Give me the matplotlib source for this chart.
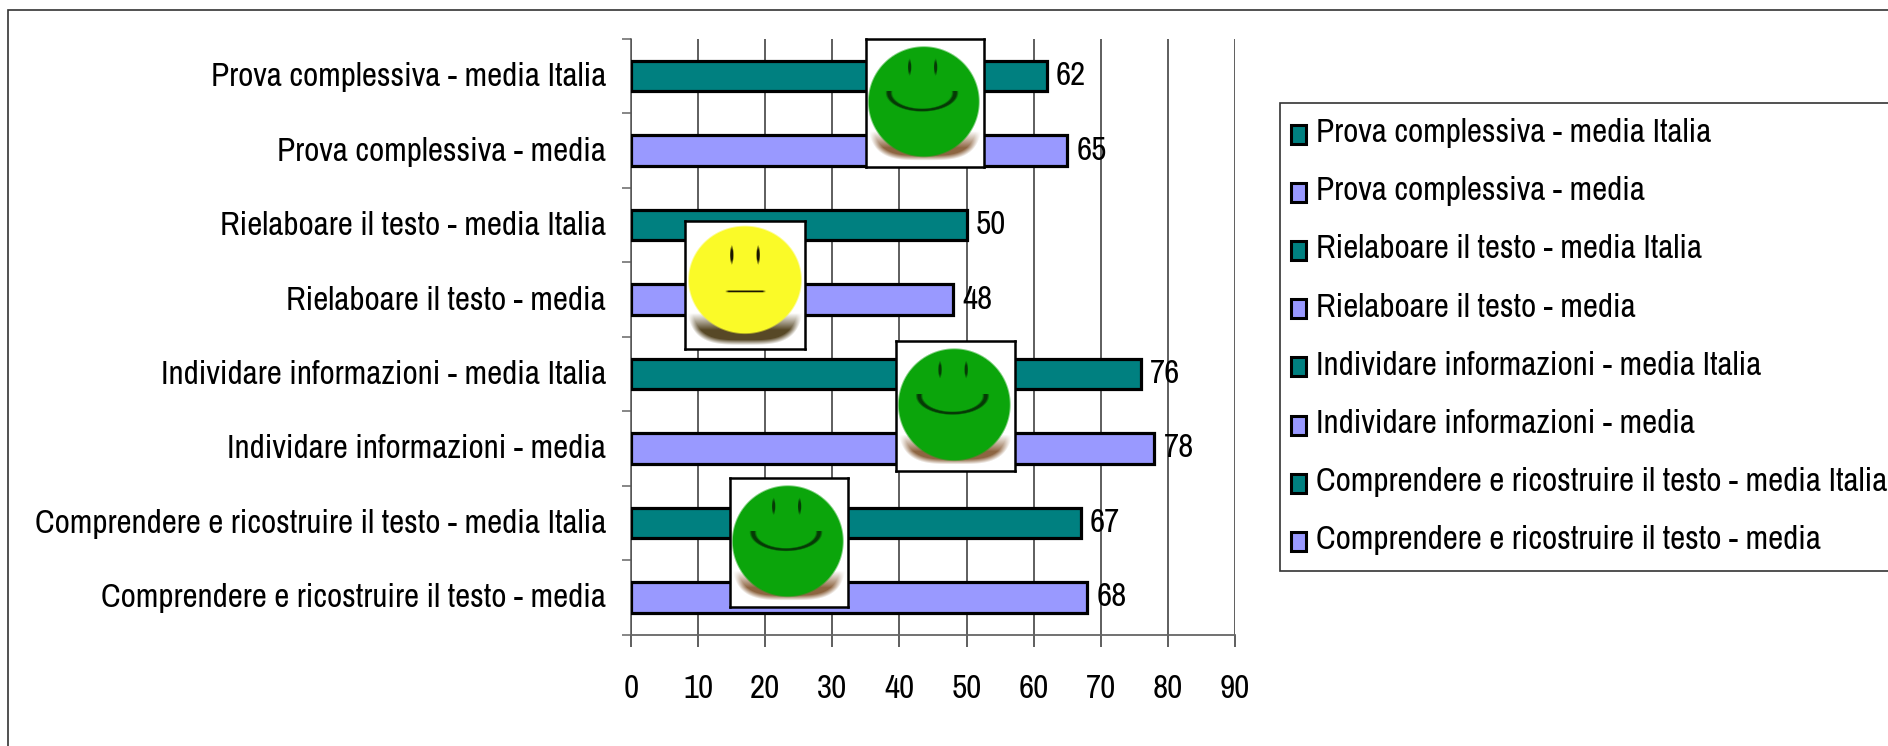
import numpy as np
import matplotlib
matplotlib.use('Agg')
import matplotlib.pyplot as plt
from matplotlib.colors import to_rgb
from matplotlib.patches import Rectangle

W, H = 1888, 746
TEAL = '#008080'
LILAC = '#9999FF'
FS = 23.8

labels = [
    'Comprendere e ricostruire il testo - media',
    'Comprendere e ricostruire il testo - media Italia',
    'Individare informazioni - media',
    'Individare informazioni - media Italia',
    'Rielaboare il testo - media',
    'Rielaboare il testo - media Italia',
    'Prova complessiva - media',
    'Prova complessiva - media Italia',
]
values = [68, 67, 78, 76, 48, 50, 65, 62]
bar_colors = [LILAC, TEAL, LILAC, TEAL, LILAC, TEAL, LILAC, TEAL]
xticks = [0, 10, 20, 30, 40, 50, 60, 70, 80, 90]
# kind, left, top, right, bottom in pixels
smileys = [
    ('smile', 866, 39, 984, 167),
    ('flat', 685, 221, 805, 349),
    ('smile', 896, 341, 1015, 471),
    ('smile', 730, 478, 848, 607),
]


def blend(img, mask, color):
    c = np.array(to_rgb(color))
    return img * (1 - mask[..., None]) + c * mask[..., None]


def make_smiley(kind, w, h):
    yy, xx = np.mgrid[0:h, 0:w]
    u = (xx + .5) / w
    v = (yy + .5) / h
    img = np.ones((h, w, 3))
    if kind == 'smile':
        face, dark, shade = '#0BA50B', '#063A06', '#7A4A20'
        cx, cy, rx, ry = .49, .49, .47, .43
        eyes, ey, eh = (.37, .59), .22, .07
        sry = .45
    else:
        face, dark, shade = '#FAFA28', '#1A1500', '#3A2800'
        cx, cy, rx, ry = .50, .46, .47, .42
        eyes, ey, eh = (.39, .61), .265, .08
        sry = .47
    d = (np.abs((u - .5) / .49) ** 3.5 + np.abs((v - .5) / sry) ** 3.5) ** (1 / 3.5)
    sh = np.clip((1 - d) / .09, 0, 1) * np.clip((v - .72) / .13, 0, 1)
    img = blend(img, sh * .85, shade)
    r = np.sqrt(((u - cx) / rx) ** 2 + ((v - cy) / ry) ** 2)
    img = blend(img, np.clip((1 - r) / .035 + .5, 0, 1), face)
    for ex in eyes:
        e = np.sqrt(((u - ex) / .018) ** 2 + ((v - ey) / eh) ** 2)
        img = blend(img, np.clip((1 - e) * 2, 0, 1), dark)
    if kind == 'smile':
        m = np.sqrt(((u - .475) / .28) ** 2 + ((v - .42) / .135) ** 2)
        band = np.clip(1.5 - np.abs(m - 1) / .075, 0, 1) * (v > .41)
    else:
        band = np.clip(1.5 - np.abs(v - .55) / .007, 0, 1) * np.clip((.17 - np.abs(u - .505)) / .03, 0, 1)
    return blend(img, band, dark)


plt.rcParams['font.family'] = ['Archivo Narrow', 'Liberation Sans', 'DejaVu Sans']
fig = plt.figure(figsize=(W / 100, H / 100), dpi=100, facecolor='white')


def box(l, t, r, b):
    return [l / W, 1 - b / H, (r - l) / W, (b - t) / H]


bg = fig.add_axes([0, 0, 1, 1], zorder=0)
bg.set_xlim(0, W); bg.set_ylim(H, 0); bg.axis('off')
bg.add_patch(Rectangle((8, 9.5), W + 20, H + 20, fc='white', ec='#333333', lw=1.2))

ax = fig.add_axes(box(631, 39, 1235, 634.5), zorder=1)
ax.patch.set_alpha(0)
y = np.arange(len(labels))
ax.barh(y, values, height=.41, color=bar_colors, edgecolor='black', linewidth=2.3, zorder=3)
ax.set_xlim(0, 90)
ax.set_ylim(-.5, len(labels) - .5)
ax.set_xticks(xticks)
ax.set_xticklabels([str(t) for t in xticks], fontsize=FS)
ax.set_yticks(np.arange(-.5, len(labels)))
ax.set_yticklabels([])
ax.grid(axis='x', color='#333333', lw=1.1, zorder=0)
ax.tick_params(axis='y', length=6.5, width=1.1, color='#666666')
ax.tick_params(axis='x', length=8.5, width=1.1, color='#333333', pad=20)
for s in ('top', 'right'):
    ax.spines[s].set_visible(False)
ax.spines['left'].set_color('#555555')
ax.spines['bottom'].set_color('#666666')
ax.spines['left'].set_linewidth(1.1)
ax.spines['bottom'].set_linewidth(1.3)
ax.set_axisbelow(True)
for yi, lab, v in zip(y, labels, values):
    ax.annotate(lab, (0, yi), xytext=(-25, -1), textcoords='offset pixels',
                ha='right', va='center', fontsize=FS, color='black')
    ax.annotate(str(v), (v, yi), xytext=(9, 0), textcoords='offset pixels',
                ha='left', va='center', fontsize=FS, color='black')

lg = fig.add_axes([0, 0, 1, 1], zorder=2)
lg.set_xlim(0, W); lg.set_ylim(H, 0); lg.axis('off')
lg.add_patch(Rectangle((1279.5, 103), W, 468, fc='white', ec='#333333', lw=1.2))
for i, (lab, c) in enumerate(zip(labels[::-1], bar_colors[::-1])):
    yc = 134 + i * 58.2
    lg.add_patch(Rectangle((1291, yc - 9.5), 14.5, 19, fc=c, ec='black', lw=2.2))
    lg.text(1316, yc - 1, lab, ha='left', va='center', fontsize=FS, color='black')

for kind, l, t, r, b in smileys:
    a = fig.add_axes(box(l, t, r, b), zorder=3)
    a.imshow(make_smiley(kind, int(r - l), int(b - t)), aspect='auto', interpolation='bilinear')
    a.set_xticks([]); a.set_yticks([])
    for s in a.spines.values():
        s.set_linewidth(1.8); s.set_color('black')

fig.savefig('out.png', dpi=100)
